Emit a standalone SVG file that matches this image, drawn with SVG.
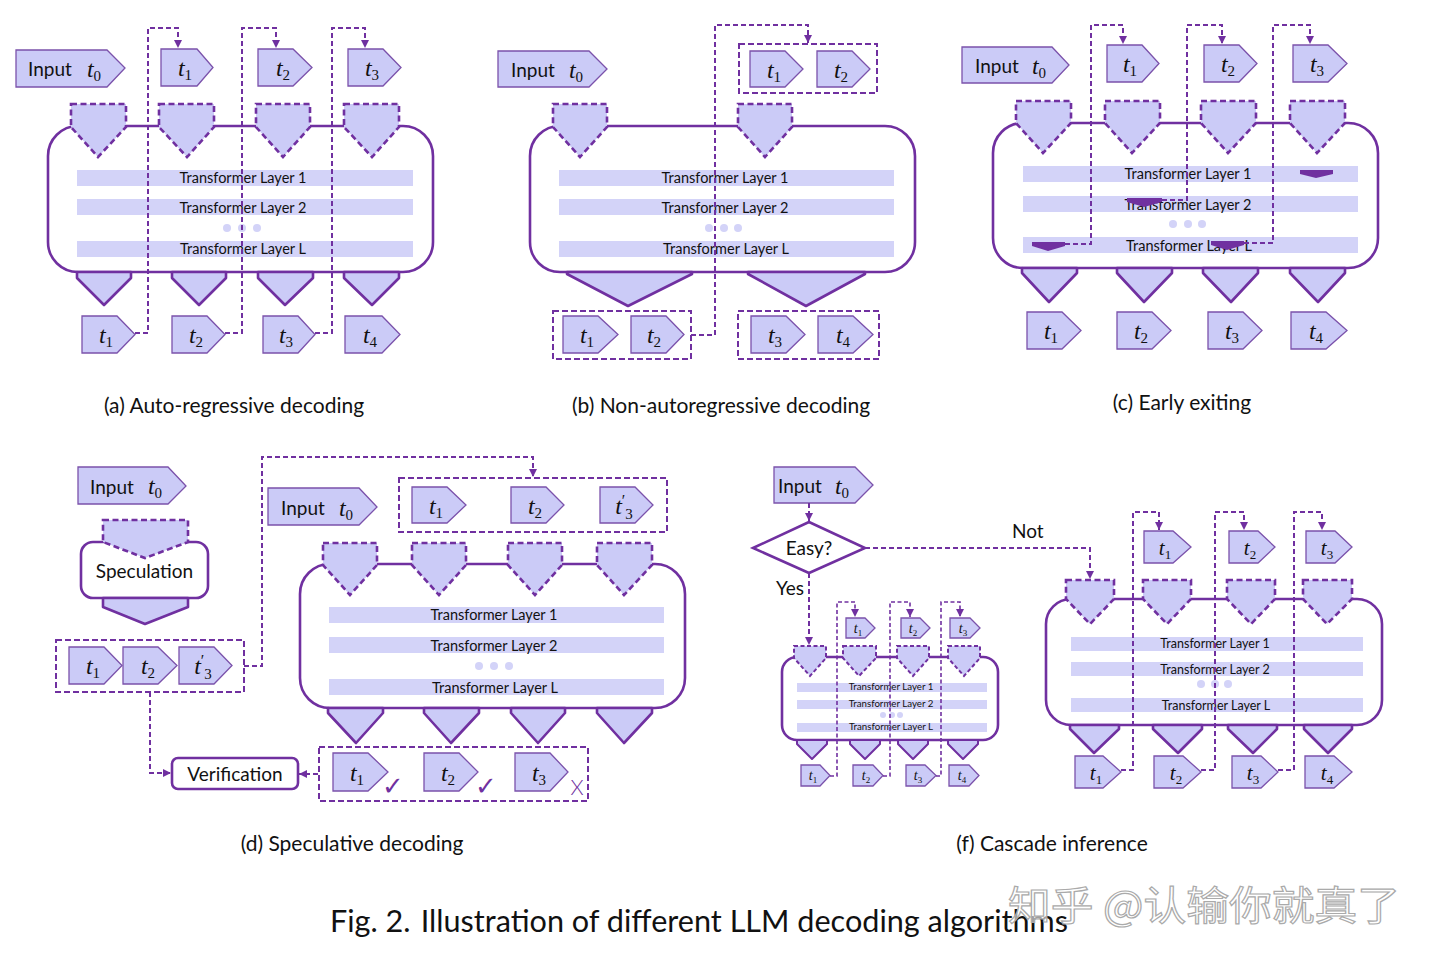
<svg xmlns="http://www.w3.org/2000/svg" width="1440" height="963" viewBox="0 0 1440 963">
<defs>
<style>
.tok{fill:#CBCBF7;stroke:#7B52AB;stroke-width:1.3}
.box{fill:#fff;stroke:#7030A0;stroke-width:2.6}
.inp{fill:#CBCBF7;stroke:#7030A0;stroke-width:2.6;stroke-dasharray:6 3.5}
.inps{fill:#CBCBF7;stroke:#7030A0;stroke-width:2;stroke-dasharray:4 2.5}
.out{fill:#CBCBF7;stroke:#7030A0;stroke-width:2.6;stroke-linejoin:round}
.outs{fill:#CBCBF7;stroke:#7030A0;stroke-width:2;stroke-linejoin:round}
.bar{fill:#D3D3F8}
.dot{fill:#D3D3F8}
.ex{fill:#7030A0}
.grp{fill:none;stroke:#7030A0;stroke-width:2;stroke-dasharray:6 3}
.con{fill:none;stroke:#7030A0;stroke-width:2;stroke-dasharray:5 3}
.cons{fill:none;stroke:#7030A0;stroke-width:1.6;stroke-dasharray:4 2.5}
.lt{font-family:Lato,"Liberation Sans",sans-serif;font-size:14.5px;fill:#111;text-anchor:middle}
.lts{font-family:Lato,"Liberation Sans",sans-serif;font-size:9.7px;fill:#111;text-anchor:middle}
.ltm{font-family:Lato,"Liberation Sans",sans-serif;font-size:12.5px;fill:#111;text-anchor:middle}
.lbl{font-family:Lato,"Liberation Sans",sans-serif;font-size:19px;fill:#111}
.cap{font-family:Lato,"Liberation Sans",sans-serif;font-size:21px;fill:#111;text-anchor:middle}
.m{font-family:"Liberation Serif",serif;font-style:italic;font-size:24px;fill:#111;text-anchor:middle}
.m .s{font-style:normal;font-size:15px}
.m .p{font-style:normal;font-size:16px}
.mS{font-family:"Liberation Serif",serif;font-style:italic;font-size:14px;fill:#111;text-anchor:middle}
.mS .s{font-style:normal;font-size:9px}
.mM{font-family:"Liberation Serif",serif;font-style:italic;font-size:21px;fill:#111;text-anchor:middle}
.mM .s{font-style:normal;font-size:13px}
.ck{font-family:"DejaVu Sans",sans-serif;font-size:26px;fill:#7030A0;text-anchor:middle}
</style>
<marker id="ah" viewBox="0 0 10 10" refX="10" refY="5" markerWidth="8" markerHeight="8" markerUnits="userSpaceOnUse" orient="auto"><path d="M0,0 L10,5 L0,10 z" fill="#7030A0"/></marker>
</defs>
<rect width="1440" height="963" fill="#fff"/>

<!-- ============ Panel (a) ============ -->
<g id="a-input"><polygon class="tok" points="16,50 107,50 125,68 107,87 16,87"/><text class="lbl" x="28" y="76">Input</text><text class="m" x="94" y="77">t<tspan class="s" dy="4">0</tspan></text></g>
<g id="a-out-t1"><polygon class="tok" points="161,49 197,49 213,67.5 197,86 161,86"/><text class="m" x="185" y="76">t<tspan class="s" dy="4">1</tspan></text></g>
<g id="a-out-t2"><polygon class="tok" points="258,49 293,49 312,67.5 293,86 258,86"/><text class="m" x="283" y="76">t<tspan class="s" dy="4">2</tspan></text></g>
<g id="a-out-t3"><polygon class="tok" points="348,49 383,49 401,67.5 383,86 348,86"/><text class="m" x="372" y="76">t<tspan class="s" dy="4">3</tspan></text></g>
<g id="a-model">
<rect class="box" x="48" y="126" width="385" height="146" rx="30"/>
<polygon class="inp" points="71,104 126,104 126,127 98,157 71,127"/>
<polygon class="inp" points="159,104 214,104 214,127 187,157 159,127"/>
<polygon class="inp" points="256,104 310,104 310,127 283,157 256,127"/>
<polygon class="inp" points="344,104 399,104 399,127 372,157 344,127"/>
<rect class="bar" x="77" y="170" width="336" height="16"/><text class="lt" x="243" y="183">Transformer Layer 1</text>
<rect class="bar" x="77" y="199" width="336" height="16"/><text class="lt" x="243" y="213">Transformer Layer 2</text>
<circle class="dot" cx="227" cy="228" r="4"/><circle class="dot" cx="242" cy="228" r="4"/><circle class="dot" cx="257" cy="228" r="4"/>
<rect class="bar" x="77" y="241" width="336" height="16"/><text class="lt" x="243" y="254">Transformer Layer L</text>
<polygon class="out" points="77,272 131,272 131,278 104,305 77,278"/>
<polygon class="out" points="172,272 226,272 226,278 199,305 172,278"/>
<polygon class="out" points="258,272 313,272 313,278 285,305 258,278"/>
<polygon class="out" points="344,272 399,272 399,278 372,305 344,278"/>
</g>
<g id="a-in-t1"><polygon class="tok" points="82,316 117,316 135,334.5 117,353 82,353"/><text class="m" x="106" y="343">t<tspan class="s" dy="4">1</tspan></text></g>
<g id="a-in-t2"><polygon class="tok" points="172,316 207,316 225,334.5 207,353 172,353"/><text class="m" x="196" y="343">t<tspan class="s" dy="4">2</tspan></text></g>
<g id="a-in-t3"><polygon class="tok" points="263,316 298,316 315,334.5 298,353 263,353"/><text class="m" x="286" y="343">t<tspan class="s" dy="4">3</tspan></text></g>
<g id="a-in-t4"><polygon class="tok" points="345,316 382,316 400,334.5 382,353 345,353"/><text class="m" x="370" y="343">t<tspan class="s" dy="4">4</tspan></text></g>
<text class="cap" x="234" y="413">(a) Auto-regressive decoding</text>

<!-- ============ Panel (b) ============ -->
<g id="b-input"><polygon class="tok" points="498,51 589,51 607,69 589,87 498,87"/><text class="lbl" x="511" y="77">Input</text><text class="m" x="576" y="78">t<tspan class="s" dy="4">0</tspan></text></g>
<g id="b-out-group"><rect class="grp" x="739" y="44" width="138" height="49"/>
<polygon class="tok" points="750,51 785,51 803,69 785,87 750,87"/><text class="m" x="774" y="78">t<tspan class="s" dy="4">1</tspan></text>
<polygon class="tok" points="817,51 852,51 870,69 852,87 817,87"/><text class="m" x="841" y="78">t<tspan class="s" dy="4">2</tspan></text></g>
<g id="b-model">
<rect class="box" x="530" y="126" width="385" height="146" rx="30"/>
<polygon class="inp" points="553,104 607,104 607,127 580,157 553,127"/>
<polygon class="inp" points="738,104 792,104 792,127 765,157 738,127"/>
<rect class="bar" x="559" y="170" width="335" height="16"/><text class="lt" x="725" y="183">Transformer Layer 1</text>
<rect class="bar" x="559" y="199" width="335" height="16"/><text class="lt" x="725" y="213">Transformer Layer 2</text>
<circle class="dot" cx="709" cy="228" r="4"/><circle class="dot" cx="724" cy="228" r="4"/><circle class="dot" cx="738" cy="228" r="4"/>
<rect class="bar" x="559" y="241" width="335" height="16"/><text class="lt" x="726" y="254">Transformer Layer L</text>
<polygon class="out" points="567,272 692,272 692,274 628,306 567,274"/>
<polygon class="out" points="748,272 865,272 865,274 806,306 748,274"/>
</g>
<g id="b-in-group1"><rect class="grp" x="553" y="311" width="138" height="48"/>
<polygon class="tok" points="563,316 598,316 618,334.5 598,353 563,353"/><text class="m" x="587" y="343">t<tspan class="s" dy="4">1</tspan></text>
<polygon class="tok" points="631,316 666,316 684,334.5 666,353 631,353"/><text class="m" x="654" y="343">t<tspan class="s" dy="4">2</tspan></text></g>
<g id="b-in-group2"><rect class="grp" x="738" y="311" width="141" height="48"/>
<polygon class="tok" points="751,316 786,316 805,334.5 786,353 751,353"/><text class="m" x="775" y="343">t<tspan class="s" dy="4">3</tspan></text>
<polygon class="tok" points="818,316 853,316 873,334.5 853,353 818,353"/><text class="m" x="843" y="343">t<tspan class="s" dy="4">4</tspan></text></g>
<text class="cap" x="721" y="413">(b) Non-autoregressive decoding</text>

<!-- ============ Panel (c) ============ -->
<g id="c-input"><polygon class="tok" points="962,47 1052,47 1069,65 1052,83 962,83"/><text class="lbl" x="975" y="73">Input</text><text class="m" x="1039" y="74">t<tspan class="s" dy="4">0</tspan></text></g>
<g id="c-out-t1"><polygon class="tok" points="1107,45 1142,45 1159,63.5 1142,82 1107,82"/><text class="m" x="1130" y="72">t<tspan class="s" dy="4">1</tspan></text></g>
<g id="c-out-t2"><polygon class="tok" points="1204,45 1239,45 1257,63.5 1239,82 1204,82"/><text class="m" x="1228" y="72">t<tspan class="s" dy="4">2</tspan></text></g>
<g id="c-out-t3"><polygon class="tok" points="1293,45 1328,45 1347,63.5 1328,82 1293,82"/><text class="m" x="1317" y="72">t<tspan class="s" dy="4">3</tspan></text></g>
<g id="c-model">
<rect class="box" x="993" y="123" width="385" height="145" rx="30"/>
<polygon class="inp" points="1016,101 1071,101 1071,123 1043,153 1016,123"/>
<polygon class="inp" points="1105,101 1160,101 1160,123 1132,153 1105,123"/>
<polygon class="inp" points="1201,101 1256,101 1256,123 1228,153 1201,123"/>
<polygon class="inp" points="1290,101 1345,101 1345,123 1317,153 1290,123"/>
<rect class="bar" x="1023" y="166" width="335" height="16"/><text class="lt" x="1188" y="179">Transformer Layer 1</text>
<rect class="bar" x="1023" y="196" width="335" height="16"/><text class="lt" x="1188" y="210">Transformer Layer 2</text>
<circle class="dot" cx="1173" cy="224" r="4"/><circle class="dot" cx="1188" cy="224" r="4"/><circle class="dot" cx="1202" cy="224" r="4"/>
<rect class="bar" x="1023" y="237" width="335" height="16"/><text class="lt" x="1189" y="251">Transformer Layer L</text>
<polygon class="ex" points="1300,170 1333,170 1333,174 1316,178 1300,174"/>
<polygon class="ex" points="1127,198 1162,198 1162,202 1144,207 1127,202"/>
<polygon class="ex" points="1032,242 1065,242 1065,246 1048,251 1032,246"/>
<polygon class="ex" points="1211,241 1244,241 1244,245 1227,250 1211,245"/>
<polygon class="out" points="1022,268 1077,268 1077,273 1049,302 1022,273"/>
<polygon class="out" points="1117,268 1172,268 1172,273 1144,302 1117,273"/>
<polygon class="out" points="1203,268 1258,268 1258,273 1231,302 1203,273"/>
<polygon class="out" points="1290,268 1345,268 1345,273 1318,302 1290,273"/>
</g>
<g id="c-in-t1"><polygon class="tok" points="1027,312 1062,312 1081,330.5 1062,349 1027,349"/><text class="m" x="1051" y="339">t<tspan class="s" dy="4">1</tspan></text></g>
<g id="c-in-t2"><polygon class="tok" points="1117,312 1152,312 1171,330.5 1152,349 1117,349"/><text class="m" x="1141" y="339">t<tspan class="s" dy="4">2</tspan></text></g>
<g id="c-in-t3"><polygon class="tok" points="1208,312 1243,312 1262,330.5 1243,349 1208,349"/><text class="m" x="1232" y="339">t<tspan class="s" dy="4">3</tspan></text></g>
<g id="c-in-t4"><polygon class="tok" points="1291,312 1326,312 1347,330.5 1326,349 1291,349"/><text class="m" x="1316" y="339">t<tspan class="s" dy="4">4</tspan></text></g>
<text class="cap" x="1182" y="410">(c) Early exiting</text>

<!-- ============ Panel (d) ============ -->
<g id="d-input1"><polygon class="tok" points="78,467 168,467 186,486 168,504 78,504"/><text class="lbl" x="90" y="494">Input</text><text class="m" x="155" y="494">t<tspan class="s" dy="4">0</tspan></text></g>
<g id="d-speculation">
<rect class="box" x="81" y="542" width="127" height="56" rx="12"/>
<polygon class="inp" points="103,520 188,520 188,542 145,558 103,542"/>
<text class="lbl" x="144.5" y="578" text-anchor="middle">Speculation</text>
<polygon class="out" points="103,598 188,598 188,607 145,624 103,607"/>
</g>
<g id="d-draft-group"><rect class="grp" x="56" y="640" width="188" height="52"/>
<polygon class="tok" points="69,647 104,647 122,665.5 104,684 69,684"/><text class="m" x="93" y="674">t<tspan class="s" dy="4">1</tspan></text>
<polygon class="tok" points="123,647 158,647 177,665.5 158,684 123,684"/><text class="m" x="148" y="674">t<tspan class="s" dy="4">2</tspan></text>
<polygon class="tok" points="179,647 214,647 232,665.5 214,684 179,684"/><text class="m" x="203" y="674">t<tspan class="p" dy="-8">′</tspan><tspan class="s" dy="13">3</tspan></text></g>
<g id="d-verification"><rect class="box" x="172" y="758" width="126" height="31" rx="6"/><text class="lbl" x="235" y="781" text-anchor="middle">Verification</text></g>
<g id="d-input2"><polygon class="tok" points="268,488 359,488 377,507 359,525 268,525"/><text class="lbl" x="281" y="515">Input</text><text class="m" x="346" y="516">t<tspan class="s" dy="4">0</tspan></text></g>
<g id="d-out-group"><rect class="grp" x="399" y="478" width="268" height="54"/>
<polygon class="tok" points="412,487 447,487 466,505 447,523 412,523"/><text class="m" x="436" y="514">t<tspan class="s" dy="4">1</tspan></text>
<polygon class="tok" points="511,487 546,487 564,505 546,523 511,523"/><text class="m" x="535" y="514">t<tspan class="s" dy="4">2</tspan></text>
<polygon class="tok" points="600,487 635,487 653,505 635,523 600,523"/><text class="m" x="624" y="514">t<tspan class="p" dy="-8">′</tspan><tspan class="s" dy="13">3</tspan></text></g>
<g id="d-model">
<rect class="box" x="300" y="564" width="385" height="144" rx="30"/>
<polygon class="inp" points="323,543 377,543 377,565 350,595 323,565"/>
<polygon class="inp" points="412,543 466,543 466,565 439,595 412,565"/>
<polygon class="inp" points="508,543 562,543 562,565 535,595 508,565"/>
<polygon class="inp" points="597,543 652,543 652,565 624,595 597,565"/>
<rect class="bar" x="329" y="607" width="335" height="16"/><text class="lt" x="494" y="620">Transformer Layer 1</text>
<rect class="bar" x="329" y="637" width="335" height="16"/><text class="lt" x="494" y="651">Transformer Layer 2</text>
<circle class="dot" cx="479" cy="666" r="4"/><circle class="dot" cx="494" cy="666" r="4"/><circle class="dot" cx="509" cy="666" r="4"/>
<rect class="bar" x="329" y="679" width="335" height="16"/><text class="lt" x="495" y="693">Transformer Layer L</text>
<polygon class="out" points="328,708 383,708 383,713 356,743 328,713"/>
<polygon class="out" points="424,708 479,708 479,713 451,743 424,713"/>
<polygon class="out" points="511,708 565,708 565,713 538,743 511,713"/>
<polygon class="out" points="597,708 652,708 652,713 624,743 597,713"/>
</g>
<g id="d-verify-group"><rect class="grp" x="319" y="747" width="269" height="54"/>
<polygon class="tok" points="333,753 368,753 388,772 368,791 333,791"/><text class="m" x="357" y="781">t<tspan class="s" dy="4">1</tspan></text>
<polygon class="tok" points="424,753 459,753 478,772 459,791 424,791"/><text class="m" x="448" y="781">t<tspan class="s" dy="4">2</tspan></text>
<polygon class="tok" points="515,753 550,753 568,772 550,791 515,791"/><text class="m" x="539" y="781">t<tspan class="s" dy="4">3</tspan></text>
<text class="ck" x="393" y="795">✓</text><text class="ck" x="486" y="795">✓</text>
<text x="577" y="795" font-family="Lato,'Liberation Sans',sans-serif" font-size="21" font-weight="300" fill="#7030A0" text-anchor="middle">X</text></g>
<text class="cap" x="352" y="851">(d) Speculative decoding</text>

<!-- ============ Panel (f) ============ -->
<g id="f-input"><polygon class="tok" points="774,467 855,467 873,485 855,503 774,503"/><text class="lbl" x="778" y="493">Input</text><text class="m" x="842" y="494">t<tspan class="s" dy="4">0</tspan></text></g>
<g id="f-easy"><polygon class="box" points="753,548 809,522 865,548 809,573"/><text class="lbl" x="809" y="555" text-anchor="middle">Easy?</text></g>
<text class="lbl" x="776" y="595">Yes</text>
<text class="lbl" x="1012" y="538">Not</text>
<g id="f-small-model">
<rect class="box" x="782" y="657" width="216" height="83" rx="15"/>
<polygon class="inps" points="794,646 826,646 826,658 810,676 794,658"/>
<polygon class="inps" points="843,646 876,646 876,658 859,676 843,658"/>
<polygon class="inps" points="897,646 929,646 929,658 913,676 897,658"/>
<polygon class="inps" points="948,646 980,646 980,658 964,676 948,658"/>
<rect class="bar" x="797" y="683" width="190" height="9"/><text class="lts" x="891" y="690">Transformer Layer 1</text>
<rect class="bar" x="797" y="700" width="190" height="9"/><text class="lts" x="891" y="707">Transformer Layer 2</text>
<circle class="dot" cx="883" cy="715" r="3"/><circle class="dot" cx="892" cy="715" r="3"/><circle class="dot" cx="900" cy="715" r="3"/>
<rect class="bar" x="797" y="723" width="190" height="9"/><text class="lts" x="891" y="730">Transformer Layer L</text>
<polygon class="outs" points="797,740 827,740 827,744 812,759 797,744"/>
<polygon class="outs" points="850,740 880,740 880,744 865,759 850,744"/>
<polygon class="outs" points="898,740 928,740 928,744 913,759 898,744"/>
<polygon class="outs" points="948,740 978,740 978,744 963,759 948,744"/>
</g>
<g id="f-s-out-t1"><polygon class="tok" points="846,618 865,618 875,628 865,638 846,638"/><text class="mS" x="858" y="633">t<tspan class="s" dy="3">1</tspan></text></g>
<g id="f-s-out-t2"><polygon class="tok" points="901,618 920,618 930,628 920,638 901,638"/><text class="mS" x="913" y="633">t<tspan class="s" dy="3">2</tspan></text></g>
<g id="f-s-out-t3"><polygon class="tok" points="950,618 970,618 980,628 970,638 950,638"/><text class="mS" x="963" y="633">t<tspan class="s" dy="3">3</tspan></text></g>
<g id="f-s-in-t1"><polygon class="tok" points="801,765 820,765 830,775.5 820,786 801,786"/><text class="mS" x="813" y="780">t<tspan class="s" dy="3">1</tspan></text></g>
<g id="f-s-in-t2"><polygon class="tok" points="853,765 873,765 883,775.5 873,786 853,786"/><text class="mS" x="866" y="780">t<tspan class="s" dy="3">2</tspan></text></g>
<g id="f-s-in-t3"><polygon class="tok" points="906,765 925,765 936,775.5 925,786 906,786"/><text class="mS" x="918" y="780">t<tspan class="s" dy="3">3</tspan></text></g>
<g id="f-s-in-t4"><polygon class="tok" points="949,765 969,765 979,775.5 969,786 949,786"/><text class="mS" x="962" y="780">t<tspan class="s" dy="3">4</tspan></text></g>
<g id="f-big-model">
<rect class="box" x="1046" y="599" width="336" height="126" rx="25"/>
<polygon class="inp" points="1066,580 1114,580 1114,599 1090,624 1066,599"/>
<polygon class="inp" points="1143,580 1191,580 1191,599 1167,624 1143,599"/>
<polygon class="inp" points="1227,580 1275,580 1275,599 1251,624 1227,599"/>
<polygon class="inp" points="1303,580 1352,580 1352,599 1327,624 1303,599"/>
<rect class="bar" x="1071" y="637" width="292" height="14"/><text class="ltm" x="1215" y="648">Transformer Layer 1</text>
<rect class="bar" x="1071" y="662" width="292" height="14"/><text class="ltm" x="1215" y="674">Transformer Layer 2</text>
<circle class="dot" cx="1201" cy="684" r="4"/><circle class="dot" cx="1215" cy="684" r="4"/><circle class="dot" cx="1228" cy="684" r="4"/>
<rect class="bar" x="1071" y="698" width="292" height="14"/><text class="ltm" x="1216" y="710">Transformer Layer L</text>
<polygon class="out" points="1070,725 1119,725 1119,729 1094,753 1070,729"/>
<polygon class="out" points="1153,725 1202,725 1202,729 1178,753 1153,729"/>
<polygon class="out" points="1228,725 1277,725 1277,729 1253,753 1228,729"/>
<polygon class="out" points="1304,725 1352,725 1352,729 1328,753 1304,729"/>
</g>
<g id="f-b-out-t1"><polygon class="tok" points="1144,531 1173,531 1191,547 1173,563 1144,563"/><text class="mM" x="1165" y="555">t<tspan class="s" dy="4">1</tspan></text></g>
<g id="f-b-out-t2"><polygon class="tok" points="1229,531 1258,531 1275,547 1258,563 1229,563"/><text class="mM" x="1250" y="555">t<tspan class="s" dy="4">2</tspan></text></g>
<g id="f-b-out-t3"><polygon class="tok" points="1306,531 1335,531 1352,547 1335,563 1306,563"/><text class="mM" x="1327" y="555">t<tspan class="s" dy="4">3</tspan></text></g>
<g id="f-b-in-t1"><polygon class="tok" points="1075,756 1103,756 1121,772 1103,788 1075,788"/><text class="mM" x="1096" y="780">t<tspan class="s" dy="4">1</tspan></text></g>
<g id="f-b-in-t2"><polygon class="tok" points="1154,756 1183,756 1201,772 1183,788 1154,788"/><text class="mM" x="1176" y="780">t<tspan class="s" dy="4">2</tspan></text></g>
<g id="f-b-in-t3"><polygon class="tok" points="1232,756 1261,756 1278,772 1261,788 1232,788"/><text class="mM" x="1253" y="780">t<tspan class="s" dy="4">3</tspan></text></g>
<g id="f-b-in-t4"><polygon class="tok" points="1305,756 1334,756 1352,772 1334,788 1305,788"/><text class="mM" x="1327" y="780">t<tspan class="s" dy="4">4</tspan></text></g>
<text class="cap" x="1052" y="851">(f) Cascade inference</text>

<!-- ============ Connectors ============ -->
<g id="connectors">
<path class="con" marker-end="url(#ah)" d="M135,333 H148 V28 H178 V48"/>
<path class="con" marker-end="url(#ah)" d="M225,333 H242 V28 H276 V48"/>
<path class="con" marker-end="url(#ah)" d="M315,333 H332 V28 H365 V48"/>
<path class="con" marker-end="url(#ah)" d="M691,335 H715 V25 H808 V43"/>
<path class="con" marker-end="url(#ah)" d="M1065,244 H1091 V25 H1123 V44"/>
<path class="con" marker-end="url(#ah)" d="M1162,200 H1187 V25 H1222 V44"/>
<path class="con" marker-end="url(#ah)" d="M1244,243 H1273 V25 H1310 V44"/>
<path class="con" marker-end="url(#ah)" d="M244,666 H262 V457 H533 V477"/>
<path class="con" marker-end="url(#ah)" d="M150,692 V773 H171"/>
<path class="con" marker-end="url(#ah)" d="M318,774 H299"/>
<path class="con" marker-end="url(#ah)" d="M809,503 V521"/>
<path class="con" marker-end="url(#ah)" d="M809,573 V645"/>
<path class="con" marker-end="url(#ah)" d="M865,548 H1090 V579"/>
<path class="cons" marker-end="url(#ah)" d="M830,776 H837 V602 H855 V617"/>
<path class="cons" marker-end="url(#ah)" d="M883,776 H890 V602 H910 V617"/>
<path class="cons" marker-end="url(#ah)" d="M936,776 H941 V602 H960 V617"/>
<path class="con" marker-end="url(#ah)" d="M1121,770 H1133 V512 H1159 V530"/>
<path class="con" marker-end="url(#ah)" d="M1201,770 H1215 V512 H1244 V530"/>
<path class="con" marker-end="url(#ah)" d="M1278,770 H1294 V512 H1322 V530"/>
</g>

<text x="330" y="932" font-family="Lato,'Liberation Sans',sans-serif" font-size="30" fill="#111" textLength="738" lengthAdjust="spacingAndGlyphs">Fig. 2.<tspan dx="10">Illustration of different LLM decoding algorithms</tspan></text>
<text x="1008" y="920" font-family="'Noto Sans CJK SC',sans-serif" font-size="40" fill="#fff" fill-opacity="0.6" stroke="#AAAAAA" stroke-width="1.2" textLength="392" lengthAdjust="spacingAndGlyphs">知乎 @认输你就真了</text>
</svg>
